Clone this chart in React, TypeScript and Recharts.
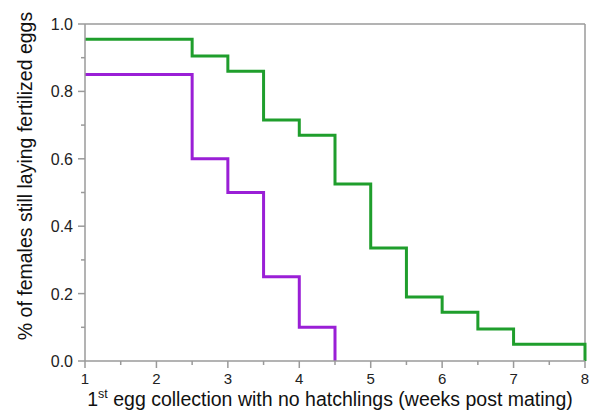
import React from 'react';
import { LineChart, Line, XAxis, YAxis, ReferenceLine } from 'recharts';

// step survival curves: value holds from x until the next x
const greenWeeks = [1, 2.5, 3, 3.5, 4, 4.5, 5, 5.5, 6, 6.5, 7, 8];
const greenValues = [0.955, 0.905, 0.86, 0.715, 0.67, 0.525, 0.335, 0.19, 0.145, 0.095, 0.05, 0];
const purpleWeeks = [1, 2.5, 3, 3.5, 4, 4.5];
const purpleValues = [0.85, 0.6, 0.5, 0.25, 0.1, 0];

const xTicks = [1, 1.5, 2, 2.5, 3, 3.5, 4, 4.5, 5, 5.5, 6, 6.5, 7, 7.5, 8];
const yTicks = [0, 0.1, 0.2, 0.3, 0.4, 0.5, 0.6, 0.7, 0.8, 0.9, 1.0];

const GREEN = '#1f9e2c';
const PURPLE = '#9a1fd6';
const AXIS = '#9a9a9a';
const FONT = '"Liberation Sans", Arial, sans-serif';

const greenData = greenWeeks.map((w, i) => ({ week: w, value: greenValues[i] }));
const purpleData = purpleWeeks.map((w, i) => ({ week: w, value: purpleValues[i] }));

const XTick = (props: any) => {
  const { x, y, payload } = props;
  const major = Number.isInteger(payload.value);
  return (
    <g>
      <line x1={x} x2={x} y1={y} y2={y + (major ? 7 : 4)} stroke={AXIS} strokeWidth={1.5} />
      {major && (
        <text x={x} y={y + 23} textAnchor="middle" fontSize={15} fill="#222" fontFamily={FONT}>
          {payload.value}
        </text>
      )}
    </g>
  );
};

const YTick = (props: any) => {
  const { x, y, payload } = props;
  const major = Math.round(payload.value * 10) % 2 === 0;
  return (
    <g>
      <line x1={x - (major ? 7 : 4)} x2={x} y1={y} y2={y} stroke={AXIS} strokeWidth={1.5} />
      {major && (
        <text x={x - 12} y={y + 6} textAnchor="end" fontSize={16} fill="#222" fontFamily={FONT}>
          {payload.value.toFixed(1)}
        </text>
      )}
    </g>
  );
};

export default function App() {
  return (
    <div style={{ position: 'absolute', left: 0, top: 0, background: '#fff' }}>
      <LineChart width={592} height={411} margin={{ top: 24, right: 7, bottom: 0, left: 0 }}>
        <XAxis
          dataKey="week"
          type="number"
          domain={[1, 8]}
          ticks={xTicks}
          interval={0}
          allowDuplicatedCategory={false}
          stroke={AXIS}
          strokeWidth={1.5}
          tickLine={false}
          tickSize={0}
          tickMargin={0}
          tick={<XTick />}
          height={50}
        />
        <YAxis
          type="number"
          domain={[0, 1]}
          ticks={yTicks}
          interval={0}
          stroke={AXIS}
          strokeWidth={1.5}
          tickLine={false}
          tickSize={0}
          tickMargin={0}
          tick={<YTick />}
          width={85}
        />
        <ReferenceLine y={1} stroke={AXIS} strokeWidth={1.5} />
        <ReferenceLine x={8} stroke={AXIS} strokeWidth={1.5} />
        <Line data={greenData} dataKey="value" type="stepAfter" stroke={GREEN} strokeWidth={3} dot={false} isAnimationActive={false} />
        <Line data={purpleData} dataKey="value" type="stepAfter" stroke={PURPLE} strokeWidth={3} dot={false} isAnimationActive={false} />
        <text x={25} y={176} transform="rotate(-90 25 176)" textAnchor="middle" fontSize={19.5} fill="#111" fontFamily={FONT} dominantBaseline="central">
          % of females still laying fertilized eggs
        </text>
        <text x={330} y={406} textAnchor="middle" fontSize={19.5} fill="#111" fontFamily={FONT}>
          1<tspan fontSize={12.5} dy={-8}>st</tspan>
          <tspan dy={8}> egg collection with no hatchlings (weeks post mating)</tspan>
        </text>
      </LineChart>
    </div>
  );
}
